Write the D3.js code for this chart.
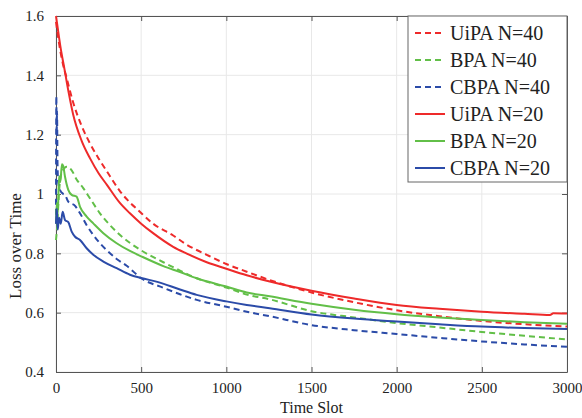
<!DOCTYPE html>
<html><head><meta charset="utf-8">
<script src="https://cdn.jsdelivr.net/npm/d3@7"></script>
<style>body{margin:0;background:#fff}svg{display:block}text{font-family:"Liberation Serif","Times New Roman",serif;fill:#222}</style>
</head><body><svg id="c" width="582" height="418"></svg>
<script>
const xTicks = [0, 500, 1000, 1500, 2000, 2500, 3000];
const yTicks = [0.4, 0.6, 0.8, 1.0, 1.2, 1.4, 1.6];
const legendLabels = ["UiPA N=40", "BPA N=40", "CBPA N=40", "UiPA N=20", "BPA N=20", "CBPA N=20"];

const uipa40 = [[0,1.58],[20,1.50],[40,1.44],[63,1.39],[100,1.31],[150,1.23],[200,1.17],[250,1.12],[300,1.075],[375,1.01],[500,0.936],[570,0.90],[688,0.86],[765,0.83],[885,0.795],[1000,0.764],[1120,0.738],[1255,0.71],[1500,0.668],[1750,0.635],[2000,0.608],[2250,0.588],[2500,0.572],[2750,0.561],[3000,0.553]];
const bpa40 = [[0,0.845],[8,0.90],[15,0.98],[25,1.05],[40,1.08],[63,1.092],[92,1.08],[120,1.05],[160,1.02],[200,0.985],[258,0.935],[317,0.895],[376,0.862],[500,0.81],[630,0.77],[728,0.742],[826,0.716],[1000,0.685],[1120,0.661],[1255,0.645],[1500,0.605],[1750,0.584],[2000,0.565],[2250,0.55],[2500,0.535],[2750,0.522],[3000,0.51]];
const cbpa40 = [[0,0.93],[2,1.33],[4,1.2],[6,1.28],[9,1.1],[13,1.04],[23,1.014],[43,1.0],[53,0.997],[72,0.974],[112,0.96],[141,0.935],[180,0.895],[219,0.862],[258,0.834],[297,0.811],[356,0.781],[415,0.758],[500,0.716],[630,0.684],[728,0.662],[826,0.643],[1000,0.62],[1120,0.603],[1255,0.588],[1500,0.558],[1750,0.541],[2000,0.528],[2250,0.515],[2500,0.503],[2750,0.493],[3000,0.485]];
const uipa20 = [[0,1.60],[10,1.56],[25,1.50],[50,1.42],[75,1.34],[100,1.27],[150,1.18],[200,1.12],[250,1.07],[300,1.03],[375,0.97],[434,0.935],[500,0.90],[570,0.868],[688,0.822],[765,0.80],[885,0.77],[1000,0.748],[1120,0.726],[1255,0.705],[1500,0.674],[1750,0.648],[2000,0.626],[2250,0.613],[2500,0.603],[2750,0.596],[2900,0.592],[2920,0.598],[3000,0.597]];
const bpa20 = [[0,0.90],[5,0.97],[10,0.93],[18,1.06],[25,1.04],[35,1.10],[42,1.095],[53,1.058],[72,1.014],[92,0.997],[121,0.991],[141,0.957],[180,0.924],[219,0.901],[278,0.868],[356,0.834],[434,0.808],[500,0.79],[630,0.757],[728,0.737],[826,0.716],[1000,0.688],[1120,0.668],[1255,0.655],[1500,0.63],[1750,0.61],[2000,0.595],[2250,0.584],[2500,0.575],[2750,0.568],[3000,0.563]];
const cbpa20 = [[0,0.90],[5,0.95],[10,0.88],[18,0.92],[28,0.90],[39,0.94],[53,0.912],[72,0.905],[92,0.873],[112,0.856],[141,0.845],[180,0.817],[219,0.795],[278,0.772],[356,0.75],[434,0.728],[500,0.717],[600,0.703],[728,0.678],[826,0.66],[1000,0.638],[1120,0.626],[1255,0.615],[1500,0.594],[1750,0.58],[2000,0.57],[2250,0.561],[2500,0.553],[2750,0.548],[3000,0.545]];

const series = [
  {data: uipa40, color: "#ee2a2a", dash: "6,4"},
  {data: bpa40, color: "#62bf48", dash: "6,4"},
  {data: cbpa40, color: "#2b4ba8", dash: "6,4"},
  {data: uipa20, color: "#ee2a2a", dash: null},
  {data: bpa20, color: "#62bf48", dash: null},
  {data: cbpa20, color: "#2b4ba8", dash: null}
];

const L = 56, R = 567, T = 16, B = 372;
const svg = d3.select("#c");
const x = d3.scaleLinear().domain([0, 3000]).range([L, R]);
const y = d3.scaleLinear().domain([0.4, 1.6]).range([B, T]);

// grid
svg.append("g").selectAll("line").data(xTicks).join("line")
  .attr("x1", d => x(d)).attr("x2", d => x(d)).attr("y1", T).attr("y2", B)
  .attr("stroke", "#e8e8e8").attr("stroke-width", 1);
svg.append("g").selectAll("line").data(yTicks).join("line")
  .attr("x1", L).attr("x2", R).attr("y1", d => y(d)).attr("y2", d => y(d))
  .attr("stroke", "#e8e8e8").attr("stroke-width", 1);

// axes
const fmt = d3.format("~g");
svg.append("g").attr("transform", `translate(0,${B})`)
  .call(d3.axisBottom(x).tickValues(xTicks).tickSizeInner(-5).tickSizeOuter(0).tickPadding(10).tickFormat(fmt));
svg.append("g").attr("transform", `translate(${L},0)`)
  .call(d3.axisLeft(y).tickValues(yTicks).tickSizeInner(-5).tickSizeOuter(0).tickPadding(12).tickFormat(fmt));
svg.append("g").attr("transform", `translate(0,${T})`)
  .call(d3.axisTop(x).tickValues(xTicks).tickSizeInner(-5).tickSizeOuter(0).tickFormat(""));
svg.append("g").attr("transform", `translate(${R},0)`)
  .call(d3.axisRight(y).tickValues(yTicks).tickSizeInner(-5).tickSizeOuter(0).tickFormat(""));
svg.selectAll(".domain").attr("stroke", "#555");
svg.selectAll(".tick line").attr("stroke", "#555");
svg.selectAll(".tick text").style("font-size", "15px").attr("fill", "#222").style("font-family", "'Liberation Serif', serif");

// lines
const line = d3.line().x(d => x(d[0])).y(d => y(d[1])).curve(d3.curveMonotoneX);
const lg = svg.append("g");
series.forEach(s => {
  lg.append("path").attr("d", line(s.data)).attr("fill", "none")
    .attr("stroke", s.color).attr("stroke-width", 2)
    .attr("stroke-dasharray", s.dash).attr("stroke-linejoin", "round");
});

// labels
svg.append("text").attr("x", (L + R) / 2).attr("y", 413).attr("text-anchor", "middle")
  .style("font-size", "16px").text("Time Slot");
svg.append("text").attr("transform", "translate(21,246) rotate(-90)").attr("text-anchor", "middle")
  .style("font-size", "17px").text("Loss over Time");

// legend
const leg = svg.append("g");
leg.append("rect").attr("x", 408).attr("y", T).attr("width", R - 408).attr("height", 166)
  .attr("fill", "#fff").attr("stroke", "#666").attr("stroke-width", 1);
series.forEach((s, i) => {
  const ly = 33 + i * 27;
  leg.append("line").attr("x1", 415).attr("x2", 445).attr("y1", ly).attr("y2", ly)
    .attr("stroke", s.color).attr("stroke-width", 2).attr("stroke-dasharray", s.dash ? "6,4" : null);
  leg.append("text").attr("x", 450).attr("y", ly + 7).style("font-size", "20px").text(legendLabels[i]);
});
</script></body></html>
